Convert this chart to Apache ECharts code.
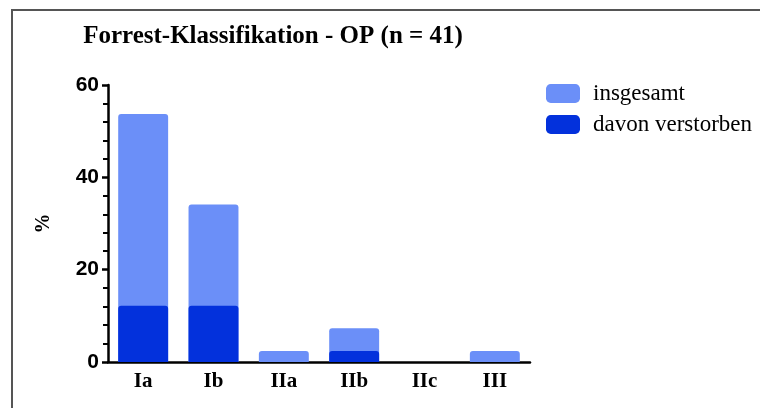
<!DOCTYPE html>
<html>
<head>
<meta charset="utf-8">
<script src="https://cdn.jsdelivr.net/npm/echarts@6/dist/echarts.min.js"></script>
<style>
  html, body { margin: 0; padding: 0; background: #fff; }
  #chart { width: 760px; height: 408px; }
</style>
</head>
<body>
<div id="chart"></div>
<script>
// Forrest classes, percent of n = 41
var categories = ['Ia', 'Ib', 'IIa', 'IIb', 'IIc', 'III'];
var insgesamt = [53.7, 34.1, 2.4, 7.3, 0, 2.4];
var verstorben = [12.2, 12.2, 0, 2.4, 0, 0];
var yTicks = [0, 20, 40, 60];

const lightBlue = '#6b8ff8';
const darkBlue = '#0331dc';
const serif = '"Liberation Serif", "DejaVu Serif", serif';
const sans = '"Liberation Sans", Arial, sans-serif';

var chart = echarts.init(document.getElementById('chart'));

var option = {
  animation: false,
  title: {
    text: 'Forrest-Klassifikation - OP (n = 41)',
    left: 268,
    textAlign: 'center',
    top: 19,
    textStyle: { fontFamily: serif, fontWeight: 'bold', fontSize: 25, color: '#000' }
  },
  legend: {
    orient: 'vertical',
    left: 541,
    top: 77,
    itemWidth: 34,
    itemHeight: 19,
    itemGap: 8,
    icon: 'roundRect',
    textStyle: { fontFamily: serif, fontSize: 23, lineHeight: 23, color: '#000', padding: [0, 0, 0, 8] },
    data: ['insgesamt', 'davon verstorben']
  },
  grid: { left: 108, right: 230, top: 85, bottom: 46 },
  xAxis: {
    type: 'category',
    data: categories,
    axisLine: { lineStyle: { color: '#000', width: 2.5 } },
    axisTick: { alignWithLabel: true, length: 7, lineStyle: { color: '#000', width: 2.5 } },
    axisLabel: { fontFamily: serif, fontWeight: 'bold', fontSize: 21, color: '#000', margin: 9 }
  },
  yAxis: {
    type: 'value',
    min: yTicks[0],
    max: yTicks[yTicks.length - 1],
    interval: 20,
    name: '%',
    nameLocation: 'middle',
    nameRotate: 90,
    nameGap: 54,
    nameTextStyle: { fontFamily: serif, fontWeight: 'bold', fontSize: 20, color: '#000' },
    axisLine: { show: true, lineStyle: { color: '#000', width: 2.5 } },
    axisTick: { show: true, length: 6, lineStyle: { color: '#000', width: 2.5 } },
    minorTick: { show: true, splitNumber: 5, length: 5, lineStyle: { color: '#000', width: 2 } },
    splitLine: { show: false },
    axisLabel: { fontFamily: sans, fontWeight: 'bold', fontSize: 21, color: '#000', margin: 9 }
  },
  series: [
    {
      name: 'insgesamt',
      type: 'bar',
      data: insgesamt,
      barWidth: '71%',
      barGap: '-100%',
      itemStyle: { color: lightBlue, borderRadius: [3, 3, 0, 0] }
    },
    {
      name: 'davon verstorben',
      type: 'bar',
      data: verstorben,
      barWidth: '71%',
      barGap: '-100%',
      itemStyle: { color: darkBlue, borderRadius: [3, 3, 0, 0] }
    }
  ],
  graphic: [
    {
      type: 'polyline',
      shape: { points: [[12, 408], [12, 10], [760, 10]] },
      style: { stroke: '#555', lineWidth: 2, fill: null },
      silent: true
    }
  ]
};

chart.setOption(option);
</script>
</body>
</html>
